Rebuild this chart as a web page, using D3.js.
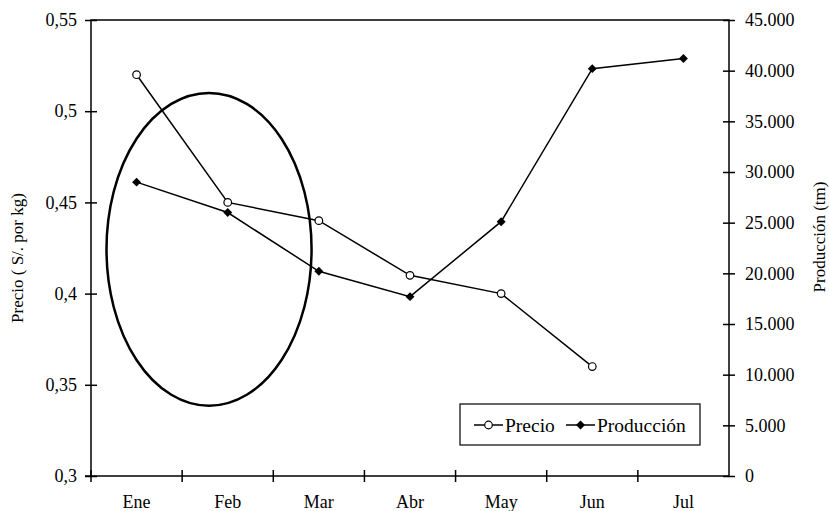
<!DOCTYPE html>
<html>
<head>
<meta charset="utf-8">
<script src="https://cdn.jsdelivr.net/npm/d3@7"></script>
<style>
  html, body { margin: 0; padding: 0; background: #fff; }
  svg { display: block; }
</style>
</head>
<body>
<svg id="chart" width="829" height="511"></svg>
<script>
// ---- data ----
const months = ["Ene", "Feb", "Mar", "Abr", "May", "Jun", "Jul"];
const precio = [0.52, 0.45, 0.44, 0.41, 0.40, 0.36];          // S/. por kg (Ene..Jun)
const produccion = [29000, 26000, 20200, 17700, 25100, 40200, 41200]; // tm (Ene..Jul)
const precioTicks = [0.3, 0.35, 0.4, 0.45, 0.5, 0.55];
const precioTickLabels = ["0,3", "0,35", "0,4", "0,45", "0,5", "0,55"];
const prodTicks = [0, 5000, 10000, 15000, 20000, 25000, 30000, 35000, 40000, 45000];
const prodTickLabels = ["0", "5.000", "10.000", "15.000", "20.000", "25.000", "30.000", "35.000", "40.000", "45.000"];
const seriesNames = ["Precio", "Producción"];
const axisTitles = ["Precio ( S/. por kg)", "Producción (tm)"];
// highlight ellipse annotation in data units (band-index units on x, price on y)
const ellipseX = [0.17, 2.42];
const ellipseY = [0.3385, 0.51];

// ---- layout ----
const FONT = "Liberation Serif";
const L = 91, R = 729, T = 20, B = 476;
const svg = d3.select("#chart").style("font-family", FONT).attr("font-family", FONT);

const x = d3.scaleBand().domain(months).range([L, R]).padding(0);
const xi = d3.scaleLinear().domain([0, months.length]).range([L, R]);
const yP = d3.scaleLinear().domain([0.3, 0.55]).range([B, T]);
const yQ = d3.scaleLinear().domain([0, 45000]).range([B, T]);
const cx = (d) => x(d) + x.bandwidth() / 2;

function styleText(sel, size) {
  sel.style("font-family", FONT).style("font-size", size + "px").attr("fill", "#000");
}

// plot frame
svg.append("rect").attr("x", L).attr("y", T).attr("width", R - L).attr("height", B - T)
  .attr("fill", "none").attr("stroke", "#000").attr("stroke-width", 1.5);

// left axis
const gl = svg.append("g").attr("transform", `translate(${L},0)`)
  .call(d3.axisLeft(yP).tickValues(precioTicks).tickSize(6)
    .tickFormat((d, i) => precioTickLabels[i]).tickPadding(8))
  .attr("font-family", FONT);
gl.select(".domain").remove();
gl.selectAll(".tick line").attr("x1", -6).attr("x2", 6).attr("stroke-width", 1.5);
styleText(gl.selectAll(".tick text"), 18);

// right axis
const gr = svg.append("g").attr("transform", `translate(${R},0)`)
  .call(d3.axisRight(yQ).tickValues(prodTicks).tickSize(6)
    .tickFormat((d, i) => prodTickLabels[i]).tickPadding(10))
  .attr("font-family", FONT);
gr.select(".domain").remove();
gr.selectAll(".tick line").attr("x1", -6).attr("x2", 6).attr("stroke-width", 1.5);
styleText(gr.selectAll(".tick text"), 18);

// bottom axis: labels at band centres, ticks at band boundaries
const gb = svg.append("g").attr("transform", `translate(0,${B})`)
  .call(d3.axisBottom(x).tickSize(0))
  .attr("font-family", FONT);
gb.select(".domain").remove();
gb.selectAll(".tick text").attr("y", 32).attr("dy", 0);
styleText(gb.selectAll(".tick text"), 18);
svg.append("g").selectAll("line").data(d3.range(months.length)).join("line")
  .attr("x1", (d) => xi(d)).attr("x2", (d) => xi(d))
  .attr("y1", B - 6).attr("y2", B + 6)
  .attr("stroke", "#000").attr("stroke-width", 1.5);
svg.append("line").attr("x1", L - 6).attr("x2", L).attr("y1", B).attr("y2", B)
  .attr("stroke", "#000").attr("stroke-width", 1.5);

// axis titles
styleText(svg.append("text").attr("transform", `translate(19,${(T + B) / 2 + 10}) rotate(-90)`)
  .attr("text-anchor", "middle").attr("dominant-baseline", "middle")
  .text(axisTitles[0]), 17);
styleText(svg.append("text").attr("transform", `translate(821,${(T + B) / 2 - 11}) rotate(-90)`)
  .attr("text-anchor", "middle").attr("dominant-baseline", "middle")
  .text(axisTitles[1]), 17);

// ellipse annotation
svg.append("ellipse")
  .attr("cx", (xi(ellipseX[0]) + xi(ellipseX[1])) / 2)
  .attr("cy", (yP(ellipseY[0]) + yP(ellipseY[1])) / 2)
  .attr("rx", (xi(ellipseX[1]) - xi(ellipseX[0])) / 2)
  .attr("ry", (yP(ellipseY[0]) - yP(ellipseY[1])) / 2)
  .attr("fill", "none").attr("stroke", "#000").attr("stroke-width", 2.5);

// lines
const precioPts = precio.map((v, i) => [cx(months[i]), yP(v)]);
const prodPts = produccion.map((v, i) => [cx(months[i]), yQ(v)]);
const line = d3.line();
svg.append("path").attr("d", line(precioPts)).attr("fill", "none").attr("stroke", "#000").attr("stroke-width", 1.5);
svg.append("path").attr("d", line(prodPts)).attr("fill", "none").attr("stroke", "#000").attr("stroke-width", 1.5);

const diamond = d3.symbol().type(d3.symbolSquare).size(40);
svg.append("g").selectAll("path").data(prodPts).join("path")
  .attr("d", diamond).attr("transform", (d) => `translate(${d[0]},${d[1]}) rotate(45)`)
  .attr("fill", "#000");
svg.append("g").selectAll("circle").data(precioPts).join("circle")
  .attr("cx", (d) => d[0]).attr("cy", (d) => d[1]).attr("r", 3.8)
  .attr("fill", "#fff").attr("stroke", "#000").attr("stroke-width", 1.2);

// legend
const lg = svg.append("g").attr("transform", "translate(460,404)");
lg.append("rect").attr("width", 240).attr("height", 41).attr("fill", "#fff")
  .attr("stroke", "#000").attr("stroke-width", 1.2);
lg.append("line").attr("x1", 14).attr("x2", 43).attr("y1", 21).attr("y2", 21).attr("stroke", "#000").attr("stroke-width", 1.5);
lg.append("circle").attr("cx", 28.5).attr("cy", 21).attr("r", 3.8).attr("fill", "#fff").attr("stroke", "#000").attr("stroke-width", 1.2);
styleText(lg.append("text").attr("x", 45).attr("y", 28).text(seriesNames[0]), 19.5);
lg.append("line").attr("x1", 106).attr("x2", 135).attr("y1", 21).attr("y2", 21).attr("stroke", "#000").attr("stroke-width", 1.5);
lg.append("path").attr("d", diamond).attr("transform", "translate(120.5,21) rotate(45)").attr("fill", "#000");
styleText(lg.append("text").attr("x", 137).attr("y", 28).text(seriesNames[1]), 19.5);
</script>
</body>
</html>
